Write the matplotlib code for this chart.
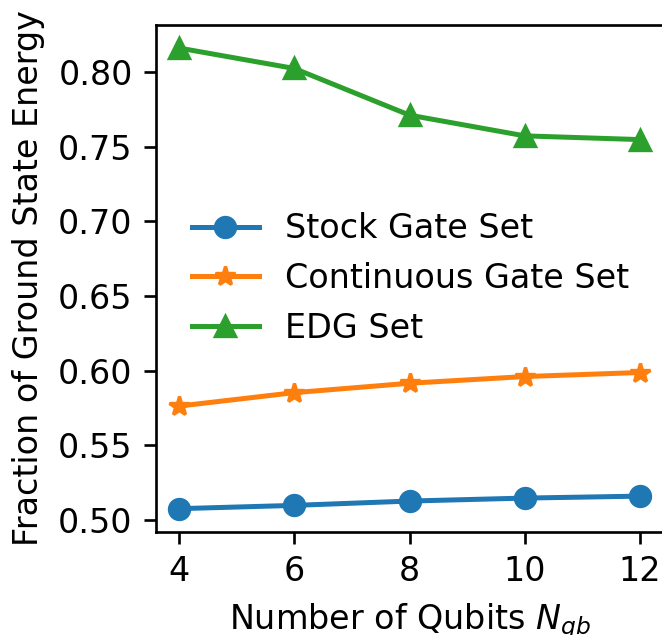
import matplotlib
matplotlib.use("Agg")
import matplotlib.pyplot as plt

qubits = [4, 6, 8, 10, 12]
stock = [0.5074, 0.5096, 0.5125, 0.5145, 0.5158]
continuous = [0.5762, 0.5852, 0.5915, 0.5960, 0.5987]
edg = [0.8163, 0.8026, 0.7713, 0.7574, 0.7549]
labels = ["Stock Gate Set", "Continuous Gate Set", "EDG Set"]

dpi = 240
fig = plt.figure(figsize=(662 / dpi, 635 / dpi), dpi=dpi)
ax = fig.add_axes([156 / 662, 103.3 / 635, 507 / 662, 506.7 / 635])

ax.plot(qubits, stock, marker="o", label=labels[0], color="#1f77b4")
ax.plot(qubits, continuous, marker="*", label=labels[1], color="#ff7f0e")
ax.plot(qubits, edg, marker="^", label=labels[2], color="#2ca02c")

ax.set_xticks(qubits)
ax.set_yticks([0.50, 0.55, 0.60, 0.65, 0.70, 0.75, 0.80])
ax.set_xlabel(r"Number of Qubits $N_{qb}$")
ax.set_ylabel("Fraction of Ground State Energy")
ax.legend(loc="center left", bbox_to_anchor=(0.012, 0.5), frameon=False)

fig.savefig("out.png", dpi=dpi)
